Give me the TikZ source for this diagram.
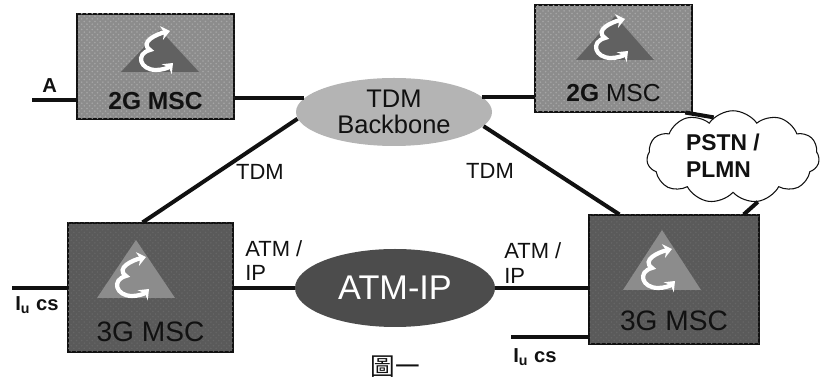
\documentclass[tikz,border=0pt]{standalone}
\usepackage{fontspec}
\setmainfont{Liberation Sans}
\newfontfamily\cjkfont{Noto Sans CJK TC}
\usetikzlibrary{shapes.geometric,shapes.symbols,arrows.meta,positioning,patterns}
\definecolor{ink}{HTML}{111111}
\definecolor{msclight}{HTML}{8c8c8c}
\definecolor{mscdark}{HTML}{5a5a5a}
\definecolor{tdmfill}{HTML}{b4b4b4}
\definecolor{atmfill}{HTML}{4c4c4c}
\begin{document}
\begin{tikzpicture}[
    mscbox/.style={rectangle, draw=ink, line width=0.6pt, inner sep=0pt},
    msctwo/.style={mscbox, fill=msclight, postaction={pattern=crosshatch dots, pattern color=black!35}},
    mscthree/.style={mscbox, fill=mscdark, postaction={pattern=crosshatch dots, pattern color=black!60}},
    mscname/.style={font=\fontsize{14}{15}\selectfont, text=ink, inner sep=0pt},
    cell/.style={ellipse, inner sep=0pt, align=center},
    lbl/.style={font=\fontsize{12.5}{14}\selectfont, text=ink, align=left, inner sep=0pt},
    lblb/.style={lbl, font=\fontsize{11.5}{14}\selectfont\bfseries},
    link/.style={draw=ink, line width=0.08cm},
    icon/.pic={
        \fill[pic actions] (-0.78,0) -- (0,#1) -- (0.78,0) -- cycle;
        \draw[white, line width=2.4pt, {Stealth[length=5pt,width=8pt]}-{Stealth[length=5pt,width=8pt]}]
            (0.2,0.82) .. controls (-0.06,0.76) and (-0.42,0.6) .. (-0.2,0.44)
            .. controls (-0.5,0.36) and (-0.4,0.04) .. (-0.08,0.04)
            .. controls (0.04,0.04) and (0.16,0.08) .. (0.26,0.18);
    },
]

% boxes and clouds
\node[msctwo,minimum width=3.14cm,minimum height=2.1cm] (msc2gl) at (3.11,6.27) {};
\node[msctwo,minimum width=3.14cm,minimum height=2.14cm] (msc2gr) at (12.27,6.43) {};
\node[mscthree,minimum width=3.3cm,minimum height=2.58cm] (msc3gl) at (3.01,1.85) {};
\node[mscthree,minimum width=3.4cm,minimum height=2.58cm] (msc3gr) at (13.48,2.01) {};

\node[cell,fill=tdmfill,minimum width=3.92cm,minimum height=1.36cm,
      font=\fontsize{14.5}{15}\selectfont,text=ink] (tdm) at (7.88,5.36) {TDM\\Backbone};
\node[cell,fill=atmfill,minimum width=4cm,minimum height=1.56cm,
      font=\fontsize{19.5}{20}\selectfont,text=white] (atm) at (7.9,1.84) {ATM-IP};
\node[cloud,cloud puffs=11,cloud puff arc=110,aspect=1.9,draw=ink,line width=0.6pt,fill=white,
      minimum width=3.45cm,minimum height=1.85cm,inner sep=0pt] (pstn) at (14.66,4.46) {};
\node[align=left,inner sep=0pt,font=\fontsize{13}{15.5}\selectfont\bfseries,text=ink] (pstnname) at (14.46,4.48) {PSTN /\\PLMN};

% icons
\path (3.2,6.16) pic[fill=black!62] {icon=0.84};
\path (12.3,6.4) pic[fill=black!62] {icon=0.88};
\path (2.72,1.64) pic[fill=msclight] {icon=1.16};
\path (13.24,1.8) pic[fill=msclight] {icon=1.2};

\node[mscname,above=0.19cm of msc2gl.south] (name2gl) {\textbf{2G MSC}};
\node[mscname,above=0.2cm of msc2gr.south] (name2gr) {\textbf{2G} MSC};
\node[mscname,font=\fontsize{16}{17}\selectfont,above=0.2cm of msc3gl.south] (name3gl) {3G MSC};
\node[mscname,font=\fontsize{16}{17}\selectfont,above=0.27cm of msc3gr.south] (name3gr) {3G MSC};

% free ends
\coordinate (a0) at (0.64,5.6);
\coordinate (iu0) at (0.24,1.84);
\coordinate (iu1) at (10.22,0.86);

% connectors
\draw[link] (a0) -- (a0 -| msc2gl.west);
\draw[link] (msc2gl.east |- tdm.171) -- (tdm.171);
\draw[link] (tdm.10) -- (msc2gr.west |- tdm.10);
\draw[link] (tdm.184) -- (msc3gl.97);
\draw[link] (tdm.351) -- (msc3gr.130);
\draw[link] (msc2gr.323) -- (pstn.116);
\draw[link] (pstn.299) -- (msc3gr.43);
\draw[link] (msc3gl.east |- atm.west) -- (atm.west);
\draw[link] (atm.east) -- (msc3gr.west |- atm.east);
\draw[link] (iu0) -- (iu0 -| msc3gl.west);
\draw[link] (iu1) -- (iu1 -| msc3gr.west);

% labels
\node[lblb,above right=0.14cm and 0.2cm of a0] (lbla) {A};
\node[lbl] (lbltdml) at (5.2,4.16) {TDM};
\node[lbl] (lbltdmr) at (9.8,4.18) {TDM};
\node[lbl,anchor=south west] (lblatml) at (4.9,1.98) {ATM /\\IP};
\node[lbl,anchor=south west] (lblatmr) at (10.08,1.93) {ATM /\\IP};
\node[lblb,below right=0.16cm and 0.06cm of iu0] (lbliul) {I\textsubscript{u} cs};
\node[lblb,below right=0.22cm and 0.04cm of iu1] (lbliur) {I\textsubscript{u} cs};
\node[font=\fontsize{14}{15}\cjkfont,text=ink,inner sep=0pt] (fig) at (7.9,0.27) {圖一};

\useasboundingbox (0,0) rectangle (16.58,7.6);
\end{tikzpicture}
\end{document}
